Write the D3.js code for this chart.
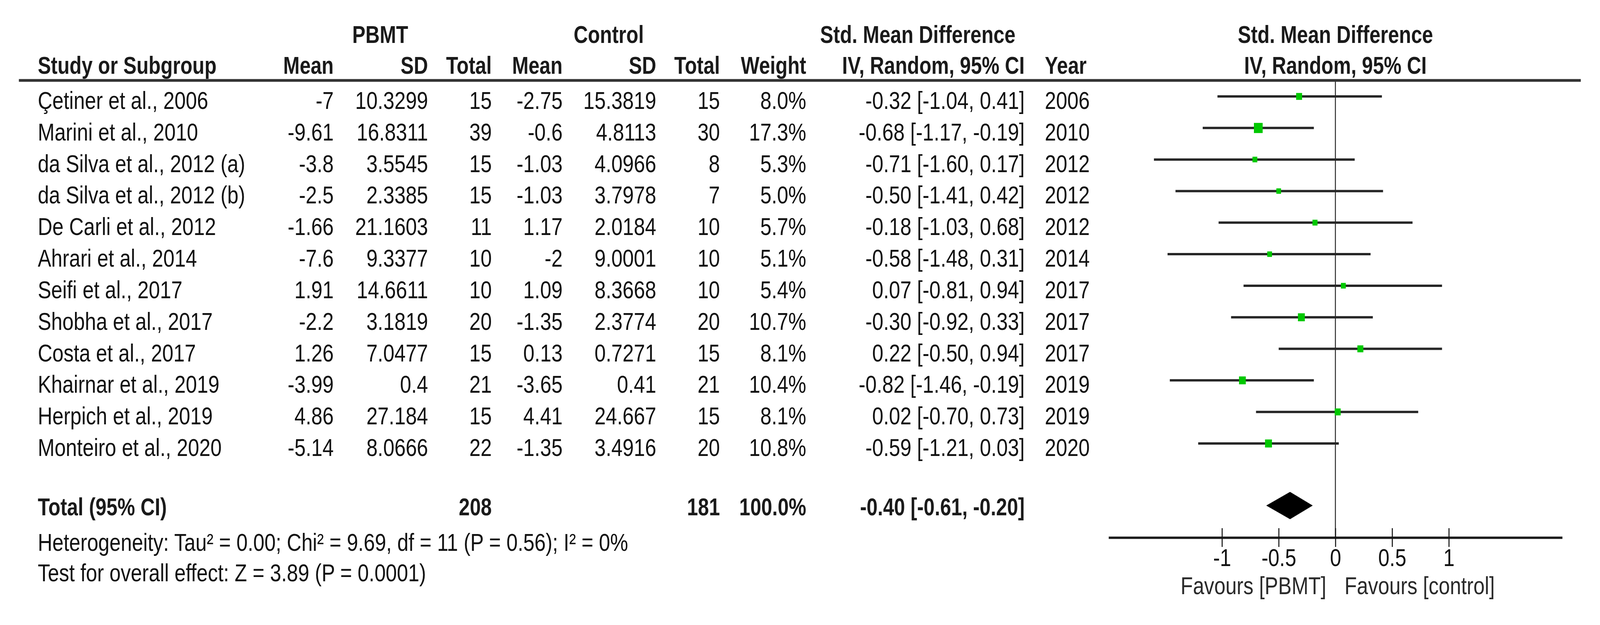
<!DOCTYPE html>
<html>
<head>
<meta charset="utf-8">
<script src="https://cdn.jsdelivr.net/npm/d3@7"></script>
<style>
  html, body { margin: 0; padding: 0; background: #fff; overflow: hidden; width: 100%; height: 100%; }
  svg { display: block; position: absolute; left: 0; top: 0; width: 100vw; height: 100vh; }
  text { font-family: "Liberation Sans", Arial, Helvetica, sans-serif; font-size: 63px; }
</style>
</head>
<body>
<svg id="chart" viewBox="0 0 4747 1601" preserveAspectRatio="none"></svg>
<script>
// ---------------- data ----------------
const studies = ["Çetiner et al., 2006", "Marini et al., 2010", "da Silva et al., 2012 (a)", "da Silva et al., 2012 (b)",
  "De Carli et al., 2012", "Ahrari et al., 2014", "Seifi et al., 2017", "Shobha et al., 2017",
  "Costa et al., 2017", "Khairnar et al., 2019", "Herpich et al., 2019", "Monteiro et al., 2020"];
const pbmtMean = [-7, -9.61, -3.8, -2.5, -1.66, -7.6, 1.91, -2.2, 1.26, -3.99, 4.86, -5.14];
const pbmtSD = [10.3299, 16.8311, 3.5545, 2.3385, 21.1603, 9.3377, 14.6611, 3.1819, 7.0477, 0.4, 27.184, 8.0666];
const pbmtTotal = [15, 39, 15, 15, 11, 10, 10, 20, 15, 21, 15, 22];
const ctrlMean = [-2.75, -0.6, -1.03, -1.03, 1.17, -2, 1.09, -1.35, 0.13, -3.65, 4.41, -1.35];
const ctrlSD = [15.3819, 4.8113, 4.0966, 3.7978, 2.0184, 9.0001, 8.3668, 2.3774, 0.7271, 0.41, 24.667, 3.4916];
const ctrlTotal = [15, 30, 8, 7, 10, 10, 10, 20, 15, 21, 15, 20];
const weight = [8.0, 17.3, 5.3, 5.0, 5.7, 5.1, 5.4, 10.7, 8.1, 10.4, 8.1, 10.8];
const smd = [-0.32, -0.68, -0.71, -0.50, -0.18, -0.58, 0.07, -0.30, 0.22, -0.82, 0.02, -0.59];
const ciLow = [-1.04, -1.17, -1.60, -1.41, -1.03, -1.48, -0.81, -0.92, -0.50, -1.46, -0.70, -1.21];
const ciHigh = [0.41, -0.19, 0.17, 0.42, 0.68, 0.31, 0.94, 0.33, 0.94, -0.19, 0.73, 0.03];
const years = [2006, 2010, 2012, 2012, 2012, 2014, 2017, 2017, 2017, 2019, 2019, 2020];

const totalPBMT = 208, totalCtrl = 181, totalWeight = 100.0;
const pooled = { est: -0.40, lo: -0.61, hi: -0.20 };
const heterogeneityText = "Heterogeneity: Tau² = 0.00; Chi² = 9.69, df = 11 (P = 0.56); I² = 0%";
const overallText = "Test for overall effect: Z = 3.89 (P = 0.0001)";
const tickValues = [-1, -0.5, 0, 0.5, 1];
const tickLabels = ["-1", "-0.5", "0", "0.5", "1"];
const favourLeft = "Favours [PBMT]", favourRight = "Favours [control]";

// ---------------- layout ----------------
const SX = 0.95;
const svg = d3.select("#chart");
svg.append("rect").attr("width", 4747).attr("height", 1601).attr("fill", "#fff");

function txt(x, y, s, anchor = "start", bold = false, fill = "#111") {
  svg.append("text")
    .attr("transform", `translate(${x},${y}) scale(${bold ? 0.93 : SX},1)`)
    .attr("text-anchor", anchor)
    .attr("font-weight", bold ? "bold" : "normal")
    .attr("fill", fill)
    .text(s);
}

const col = {
  study: 112, pMean: 990, pSD: 1270, pTot: 1459,
  cMean: 1669, cSD: 1947, cTot: 2136, weight: 2392, ci: 3040, year: 3100
};

const x = d3.scaleLinear().domain([-2, 2]).range([3289, 4635]);
const y = d3.scalePoint().domain(d3.range(studies.length)).range([279, 1168]);
const fmt2 = d => d.toFixed(2);
const ciText = (e, l, h) => `${fmt2(e)} [${fmt2(l)}, ${fmt2(h)}]`;

// header
const hdr = "#1a1a1a";
txt(1128, 110, "PBMT", "middle", true, hdr);
txt(1806, 110, "Control", "middle", true, hdr);
txt(2723, 110, "Std. Mean Difference", "middle", true, hdr);
txt(x(0), 110, "Std. Mean Difference", "middle", true, hdr);

txt(col.study, 189, "Study or Subgroup", "start", true, hdr);
txt(col.pMean, 189, "Mean", "end", true, hdr);
txt(col.pSD, 189, "SD", "end", true, hdr);
txt(col.pTot, 189, "Total", "end", true, hdr);
txt(col.cMean, 189, "Mean", "end", true, hdr);
txt(col.cSD, 189, "SD", "end", true, hdr);
txt(col.cTot, 189, "Total", "end", true, hdr);
txt(col.weight, 189, "Weight", "end", true, hdr);
txt(col.ci, 189, "IV, Random, 95% CI", "end", true, hdr);
txt(col.year, 189, "Year", "start", true, hdr);
txt(x(0), 189, "IV, Random, 95% CI", "middle", true, hdr);

// heavy header rule
svg.append("line").attr("x1", 56).attr("x2", 4690).attr("y1", 206).attr("y2", 206)
  .attr("stroke", "#333").attr("stroke-width", 7);

// zero line
const axisY = 1377;
svg.append("line").attr("x1", x(0)).attr("x2", x(0)).attr("y1", 206).attr("y2", axisY)
  .attr("stroke", "#333").attr("stroke-width", 3);

// study rows
studies.forEach((s, i) => {
  const by = y(i);
  txt(col.study, by, s);
  txt(col.pMean, by, String(pbmtMean[i]), "end");
  txt(col.pSD, by, String(pbmtSD[i]), "end");
  txt(col.pTot, by, String(pbmtTotal[i]), "end");
  txt(col.cMean, by, String(ctrlMean[i]), "end");
  txt(col.cSD, by, String(ctrlSD[i]), "end");
  txt(col.cTot, by, String(ctrlTotal[i]), "end");
  txt(col.weight, by, weight[i].toFixed(1) + "%", "end");
  txt(col.ci, by, ciText(smd[i], ciLow[i], ciHigh[i]), "end");
  txt(col.year, by, String(years[i]));
});

// CI lines and squares
const markY = i => y(i) - 32;
svg.append("g").selectAll("line").data(studies).join("line")
  .attr("x1", (d, i) => x(ciLow[i])).attr("x2", (d, i) => x(ciHigh[i]))
  .attr("y1", (d, i) => markY(i)).attr("y2", (d, i) => markY(i))
  .attr("stroke", "#262626").attr("stroke-width", 6);
const side = w => 6.25 * Math.sqrt(w);
svg.append("g").selectAll("rect").data(studies).join("rect")
  .attr("x", (d, i) => x(smd[i]) - side(weight[i]) / 2)
  .attr("y", (d, i) => markY(i) - side(weight[i]) / 2)
  .attr("width", (d, i) => side(weight[i]))
  .attr("height", (d, i) => side(weight[i]))
  .attr("fill", "#00c800");

// total row
const ty = 1320;
txt(col.study, ty, "Total (95% CI)", "start", true, hdr);
txt(col.pTot, ty, String(totalPBMT), "end", true, hdr);
txt(col.cTot, ty, String(totalCtrl), "end", true, hdr);
txt(col.weight, ty, totalWeight.toFixed(1) + "%", "end", true, hdr);
txt(col.ci, ty, ciText(pooled.est, pooled.lo, pooled.hi), "end", true, hdr);

const dy = ty - 25;
svg.append("path")
  .attr("d", `M${x(pooled.lo)},${dy} L${x(pooled.est)},${dy - 35} L${x(pooled.hi)},${dy} L${x(pooled.est)},${dy + 35} Z`)
  .attr("fill", "#000");

// footer text
txt(col.study, 1411, heterogeneityText);
txt(col.study, 1489, overallText);

// axis
const ax = svg.append("g").attr("transform", `translate(0,${axisY})`)
  .call(d3.axisBottom(x).tickValues(tickValues)
    .tickFormat((d, i) => tickLabels[i]).tickSize(24).tickSizeOuter(0));
ax.attr("font-size", null).attr("font-family", null);
ax.select(".domain").attr("stroke", "#1a1a1a").attr("stroke-width", 6);
ax.selectAll(".tick line").attr("y1", -24).attr("y2", 24).attr("stroke", "#111").attr("stroke-width", 3);
ax.selectAll(".tick text").attr("y", 73).attr("dy", null)
  .attr("transform", `scale(${SX},1)`).attr("fill", "#111")
  .style("font-size", "63px");

// favours labels
txt(x(0) - 27, 1522, favourLeft, "end", false, "#2a2a2a");
txt(x(0) + 27, 1522, favourRight, "start", false, "#2a2a2a");
</script>
</body>
</html>
